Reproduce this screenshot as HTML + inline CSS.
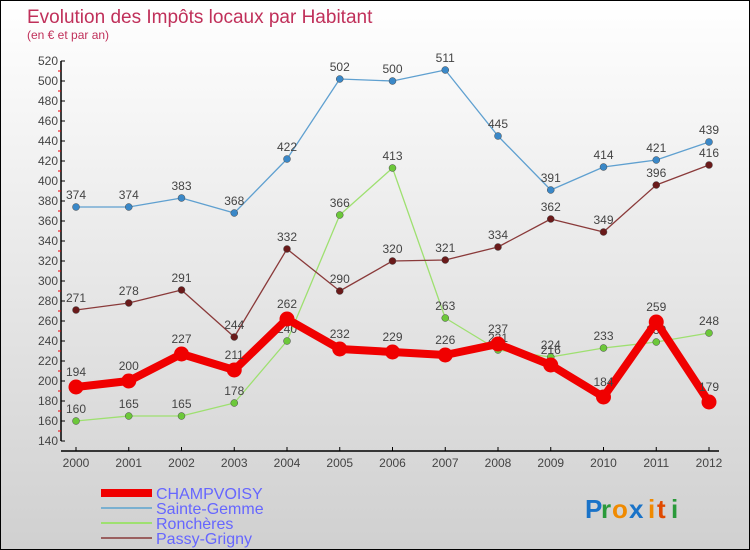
<!DOCTYPE html>
<html><head><meta charset="utf-8"><style>
html,body{margin:0;padding:0}
body{width:750px;height:550px;overflow:hidden;font-family:"Liberation Sans",sans-serif}
#wrap{position:relative;width:748px;height:548px;border:1px solid #000;background:linear-gradient(#ffffff,#d0d0d0)}
</style></head><body>
<div id="wrap">
<svg id="chart" width="748" height="548" style="position:absolute;left:0;top:0">
<text x="26" y="22" font-size="19" fill="#c0305a">Evolution des Impôts locaux par Habitant</text>
<text x="26" y="38" font-size="12" fill="#c0305a">(en € et par an)</text>
<g id="axes"></g>
<g id="series"></g>
<g id="legend"></g>
<g font-size="26" font-weight="bold">
<text x="584" y="517" fill="#1a73c8">P</text><text x="600" y="517" fill="#2a9a3a">r</text><text x="611" y="517" fill="#f08a00">o</text><text x="628" y="517" fill="#1a73c8">x</text><text x="647" y="517" fill="#f08a00">i</text><text x="656" y="517" fill="#e04a00">t</text><text x="670" y="517" fill="#2a9a3a">i</text>
</g>
</svg>
</div>
<script>
const years=[2000,2001,2002,2003,2004,2005,2006,2007,2008,2009,2010,2011,2012];
const champvoisy=[194,200,227,211,262,232,229,226,237,216,184,259,179];
const sainteGemme=[374,374,383,368,422,502,500,511,445,391,414,421,439];
const roncheres=[160,165,165,178,240,366,413,263,231,224,233,239,248];
const passyGrigny=[271,278,291,244,332,290,320,321,334,362,349,396,416];
const yTicks=[140,160,180,200,220,240,260,280,300,320,340,360,380,400,420,440,460,480,500,520];
const NS="http://www.w3.org/2000/svg";
function xs(i){return 75+i*(708-75)/(years.length-1);}
function ys(v){return 440-(v-140)*(380/380);}
function mk(tag,attrs,parent){const e=document.createElementNS(NS,tag);for(const k in attrs)e.setAttribute(k,attrs[k]);parent.appendChild(e);return e;}
const axes=document.getElementById('axes');
let yl=mk('line',{x1:60,y1:ys(520),x2:60,y2:ys(140),stroke:'#000','stroke-width':1.5},axes);


let xl=mk('line',{x1:60,y1:450,x2:718,y2:450,stroke:'#000','stroke-width':1.5},axes);


yTicks.forEach((t,i)=>{
  mk('line',{x1:60,y1:ys(t),x2:64,y2:ys(t),stroke:'#000'},axes);
  if(i>0)mk('line',{x1:57,y1:ys(t-10),x2:60,y2:ys(t-10),stroke:'#e00'},axes);
  const tx=mk('text',{x:57,y:ys(t)+4,'font-size':12,'text-anchor':'end',fill:'#444'},axes);
  tx.textContent=t;
  
  
});
years.forEach((y,i)=>{
  mk('line',{x1:xs(i),y1:446,x2:xs(i),y2:450,stroke:'#000'},axes);
  const tx=mk('text',{x:xs(i),y:466,'font-size':12,'text-anchor':'middle',fill:'#444'},axes);
  tx.textContent=y;
  
  
});
const series=[
 {name:'Sainte-Gemme',data:sainteGemme,color:'#5fa0d0',dot:'#3a88c8',w:1.3,r:3.5},
 {name:'Ronchères',data:roncheres,color:'#9ee070',dot:'#6cc83a',w:1.3,r:3.5},
 {name:'Passy-Grigny',data:passyGrigny,color:'#8a3a3a',dot:'#6a1a1a',w:1.3,r:3.5},
 {name:'CHAMPVOISY',data:champvoisy,color:'#f00000',dot:'#f00000',w:8,r:7.5}
];
const sg=document.getElementById('series');
series.forEach(s=>{
  const g=mk('g',{},sg);
  
  
  const pts=s.data.map((v,i)=>xs(i)+','+ys(v)).join(' ');
  const pl=mk('polyline',{points:pts,fill:'none',stroke:s.color,'stroke-width':s.w,'stroke-linejoin':'round'},g);
  
  
  s.data.forEach((v,i)=>{
    const c=mk('circle',{cx:xs(i),cy:ys(v),r:s.r,fill:s.dot,stroke:s.w>2?'none':'#4a4a4a','stroke-width':0.5},g);
    
    
    const t=mk('text',{x:xs(i),y:ys(v)-(s.w>2?11:8),'font-size':12,'text-anchor':'middle',fill:'#444'},g);
    t.textContent=v;
    
    
  });
});
const lg=document.getElementById('legend');
const leg=[['CHAMPVOISY','#f00000',8,492],['Sainte-Gemme','#7ab0d0',2,507],['Ronchères','#9ee070',2,522],['Passy-Grigny','#9a6060',2,537]];
leg.forEach(l=>{
  const g=mk('g',{},lg);
  
  
  mk('line',{x1:100,y1:l[3],x2:151,y2:l[3],stroke:l[1],'stroke-width':l[2]},g);
  const t=mk('text',{x:155,y:l[3]+6,'font-size':16,fill:'#6666ff'},g);
  t.textContent=l[0];
});
</script>
</body></html>
